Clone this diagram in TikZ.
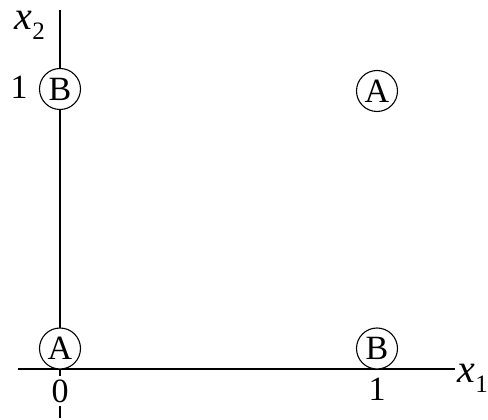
\documentclass[tikz,border=0pt]{standalone}
\usepackage{fontspec}
\setmainfont{Liberation Serif}
\newcommand{\axlab}[1]{{\fontsize{40}{40}\selectfont\itshape x}\kern0.5pt\raisebox{-10pt}{\fontsize{25}{25}\selectfont #1}}
\begin{document}
\begin{tikzpicture}[x=1pt,y=1pt,
  pt/.style={circle,draw,line width=1.1pt,fill=white,minimum size=41pt,inner sep=0pt,font=\fontsize{34}{34}\selectfont},
  num/.style={font=\fontsize{34}{34}\selectfont,inner sep=0pt},
  axis/.style={line width=1.1pt}]
\useasboundingbox (0,0) rectangle (488,420);
\coordinate (ytop) at (60,410);
\coordinate (ybot) at (60,2);
\coordinate (xl) at (18,51);
\coordinate (xr) at (455,51);
\draw[axis] (ybot) -- (ytop);
\draw[axis] (xl) -- (xr);
\node[num,fill=white,inner ysep=4pt,inner xsep=2pt] (zero) at (60,29) {0};
\node[num] (onex) at (377,31) {1};
\node[num] (oney) at (19,333) {1};
\node[pt] (B1) at (60,331) {B};
\node[pt] (A1) at (377,329) {A};
\node[pt] (A0) at (60,71.5) {A};
\node[pt] (B0) at (377,71.5) {B};
\node[anchor=base west,inner sep=0pt] (x2) at (14,390) {\axlab{2}};
\node[anchor=base west,inner sep=0pt] (x1) at (457,37) {\axlab{1}};
\end{tikzpicture}
\end{document}
